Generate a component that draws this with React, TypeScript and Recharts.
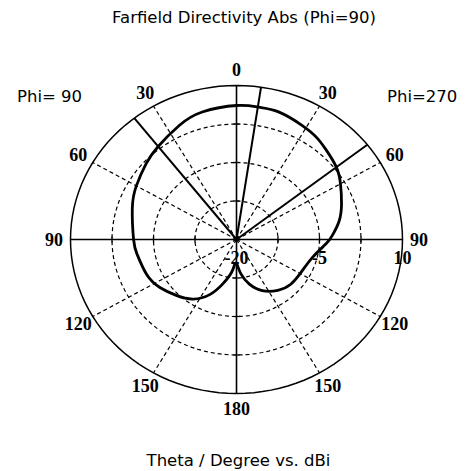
import { ScatterChart, Scatter, XAxis, YAxis, ReferenceLine } from 'recharts';

// radial scale (dBi): centre = -20, outer ring = 10
const R_MIN = -20;
const R_MAX = 10;
const DASHED_RINGS = [-12.5, -5, 2.5];
const RING_LABELS = [-20, -5, 10];
const SPOKES = [30, 60, 120, 150];
const ANGLE_LABELS = [0, 30, 60, 90, 120, 150, 180];

// pattern, Phi=90 half (drawn on the left)
const THETA_PHI90 = [0, 14, 25, 38, 48, 60, 72, 90, 99, 113, 124, 135, 146, 156, 164, 172, 176, 180];
const DBI_PHI90 = [6.1, 5.6, 4.5, 3.0, 2.0, 0.9, -0.2, -1.4, -1.8, -2.4, -3.3, -4.6, -6.0, -8.3, -11.0, -13.5, -15.1, -15.5];

// pattern, Phi=270 half (drawn on the right)
const THETA_PHI270 = [0, 9, 17, 28, 36, 43, 52, 60, 70, 79, 87, 93, 104, 119, 132, 143, 155, 165, 173, 180];
const DBI_PHI270 = [6.1, 6.1, 6.0, 5.2, 4.6, 3.8, 2.9, 1.7, 0.2, -1.1, -2.6, -3.8, -5.8, -6.7, -6.9, -7.6, -9.0, -11.0, -13.2, -15.5];

// main lobe direction and 3 dB edges (negative = Phi=90 side)
const MAIN_LOBE = 8.5;
const HPBW_EDGES = [-38, 52];

const W = 468;
const H = 471;
const X_DOM = 1.38;
const Y_DOM = 1.5;
const LABEL_R = 1.1;
const RING_LABEL_Y = -0.123;
const TICK = 0.02;

const rad = (d: number) => (d * Math.PI) / 180;
const norm = (db: number) => Math.max(0, (db - R_MIN) / (R_MAX - R_MIN));
const polar = (deg: number, r: number) => ({ x: r * Math.sin(rad(deg)), y: r * Math.cos(rad(deg)) });

const pattern = [
  ...THETA_PHI90.map((t, i) => polar(-t, norm(DBI_PHI90[i]))).reverse(),
  ...THETA_PHI270.slice(1).map((t, i) => polar(t, norm(DBI_PHI270[i + 1]))),
];

const ring = (r: number) => {
  const pts = [];
  for (let a = 0; a <= 360; a += 3) pts.push(polar(a, r));
  return pts;
};

const angleLabels = ANGLE_LABELS.flatMap((a) =>
  a === 0 || a === 180
    ? [{ ...polar(a, LABEL_R), text: String(a) }]
    : [
        { ...polar(-a, LABEL_R), text: String(a) },
        { ...polar(a, LABEL_R), text: String(a) },
      ],
);

const ringLabels = RING_LABELS.map((v) => ({ x: norm(v), y: RING_LABEL_Y, text: String(v) }));

const ringTicks = DASHED_RINGS.flatMap((v) => {
  const r = norm(v);
  return [
    [{ x: r, y: -TICK }, { x: r, y: TICK }],
    [{ x: -r, y: -TICK }, { x: -r, y: TICK }],
    [{ x: -TICK * 0.93, y: r }, { x: TICK * 0.93, y: r }],
    [{ x: -TICK * 0.93, y: -r }, { x: TICK * 0.93, y: -r }],
  ];
});

const serif = { fontFamily: '"Liberation Serif", serif', fontSize: 18, fontWeight: 600, fill: '#000' };
const sans = { fontFamily: '"DejaVu Sans", sans-serif', fontSize: 16.5, fill: '#000' };

const TextShape = (props: any) => (
  <text x={props.cx} y={props.cy} textAnchor="middle" dominantBaseline="central" {...serif}>
    {props.payload.text}
  </text>
);

const Empty = () => <g />;

const plotW = 2 * X_DOM * 166;
const plotH = 2 * Y_DOM * 154;
const left = 236.5 - plotW / 2;
const top = 239.5 - plotH / 2;

export default function App() {
  return (
    <div style={{ position: 'absolute', left: 0, top: 0, width: W, height: H, background: '#fff' }}>
      <ScatterChart
        width={W}
        height={H}
        margin={{ left, top, right: W - left - plotW, bottom: H - top - plotH }}
      >
        <XAxis type="number" dataKey="x" domain={[-X_DOM, X_DOM]} allowDataOverflow hide />
        <YAxis type="number" dataKey="y" domain={[-Y_DOM, Y_DOM]} allowDataOverflow hide />

        {DASHED_RINGS.map((v) => (
          <Scatter
            key={'ring' + v}
            data={ring(norm(v))}
            fill="#000"
            shape={Empty}
            line={{ stroke: '#000', strokeWidth: 1.2, strokeDasharray: '4 3' }}
            lineJointType="linear"
            isAnimationActive={false}
          />
        ))}
        {SPOKES.flatMap((a) => [a, -a]).map((a) => (
          <ReferenceLine
            key={'spoke' + a}
            segment={[{ x: 0, y: 0 }, polar(a, 1)]}
            stroke="#000"
            strokeWidth={1.2}
            strokeDasharray="4 3"
          />
        ))}
        <ReferenceLine segment={[{ x: -1, y: 0 }, { x: 1, y: 0 }]} stroke="#000" strokeWidth={1.6} />
        <ReferenceLine segment={[{ x: 0, y: -1 }, { x: 0, y: 1 }]} stroke="#000" strokeWidth={1.6} />
        {ringTicks.map((seg, i) => (
          <ReferenceLine key={'tick' + i} segment={seg} stroke="#000" strokeWidth={1.3} />
        ))}
        <Scatter
          data={ring(1)}
          fill="#000"
          shape={Empty}
          line={{ stroke: '#000', strokeWidth: 1.5 }}
          lineJointType="linear"
          isAnimationActive={false}
        />
        {[MAIN_LOBE, ...HPBW_EDGES].map((a) => (
          <ReferenceLine key={'lobe' + a} segment={[{ x: 0, y: 0 }, polar(a, 1)]} stroke="#000" strokeWidth={2} />
        ))}
        <Scatter
          data={pattern}
          fill="#000"
          shape={Empty}
          line={{ stroke: '#000', strokeWidth: 2.8 }}
          lineJointType="natural"
          isAnimationActive={false}
        />
        <Scatter data={angleLabels} fill="#000" shape={TextShape} isAnimationActive={false} />
        <Scatter data={ringLabels} fill="#000" shape={TextShape} isAnimationActive={false} />
      </ScatterChart>
      <svg width={W} height={H} style={{ position: 'absolute', left: 0, top: 0, pointerEvents: 'none' }}>
        <text x={244} y={23} textAnchor="middle" {...sans}>
          Farfield Directivity Abs (Phi=90)
        </text>
        <text x={17} y={102} {...sans}>
          Phi= 90
        </text>
        <text x={387} y={102} {...sans}>
          Phi=270
        </text>
        <text x={238.5} y={466} textAnchor="middle" {...sans}>
          Theta / Degree vs. dBi
        </text>
      </svg>
    </div>
  );
}
